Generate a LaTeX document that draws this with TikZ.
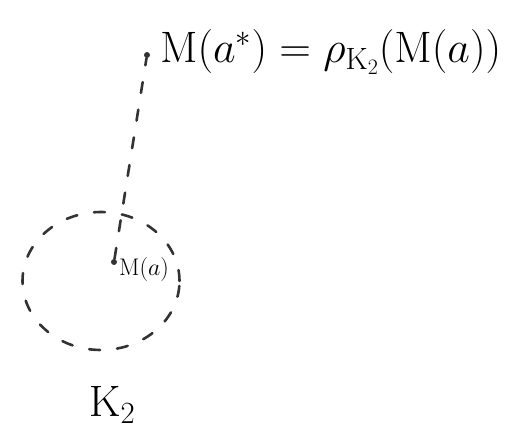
\documentclass[tikz,border=0pt]{standalone}
\usepackage{fix-cm}
\usepackage{amsmath}
\usepackage{tikz}
\usetikzlibrary{shapes.geometric}

\tikzset{
	sketch/.style={line width=2.6pt, line cap=round, dash pattern=on 11pt off 17pt, color=black!80},
	pt/.style={circle, fill=black!80, inner sep=0pt, minimum size=6pt}
}

\begin{document}
\begin{tikzpicture}[x=1pt, y=-1pt]
			\useasboundingbox (0,0) rectangle (532,444);
			\node[ellipse, draw, sketch, minimum width=157pt, minimum height=138pt] (ball) at (101,281) {};
			\node[pt] (Ma) at (114,262) {};
			\node[pt] (Mastar) at (147,55) {};
			\draw[sketch] (Ma) -- (Mastar);
			\node[anchor=north west, inner sep=1pt, font=\fontsize{24}{26}\selectfont] (laba) at (118,256) {$\mathrm{M}(a)$};
			\node[anchor=west, inner sep=2pt, font=\fontsize{44}{48}\selectfont] (labstar) at (158,52) {$\mathrm{M}(a^*) = \rho_{\mathrm{K}_2}(\mathrm{M}(a))$};
			\node[font=\fontsize{44}{48}\selectfont] (labK) at (112,405) {$\mathrm{K}_2$};
		\end{tikzpicture}
\end{document}
